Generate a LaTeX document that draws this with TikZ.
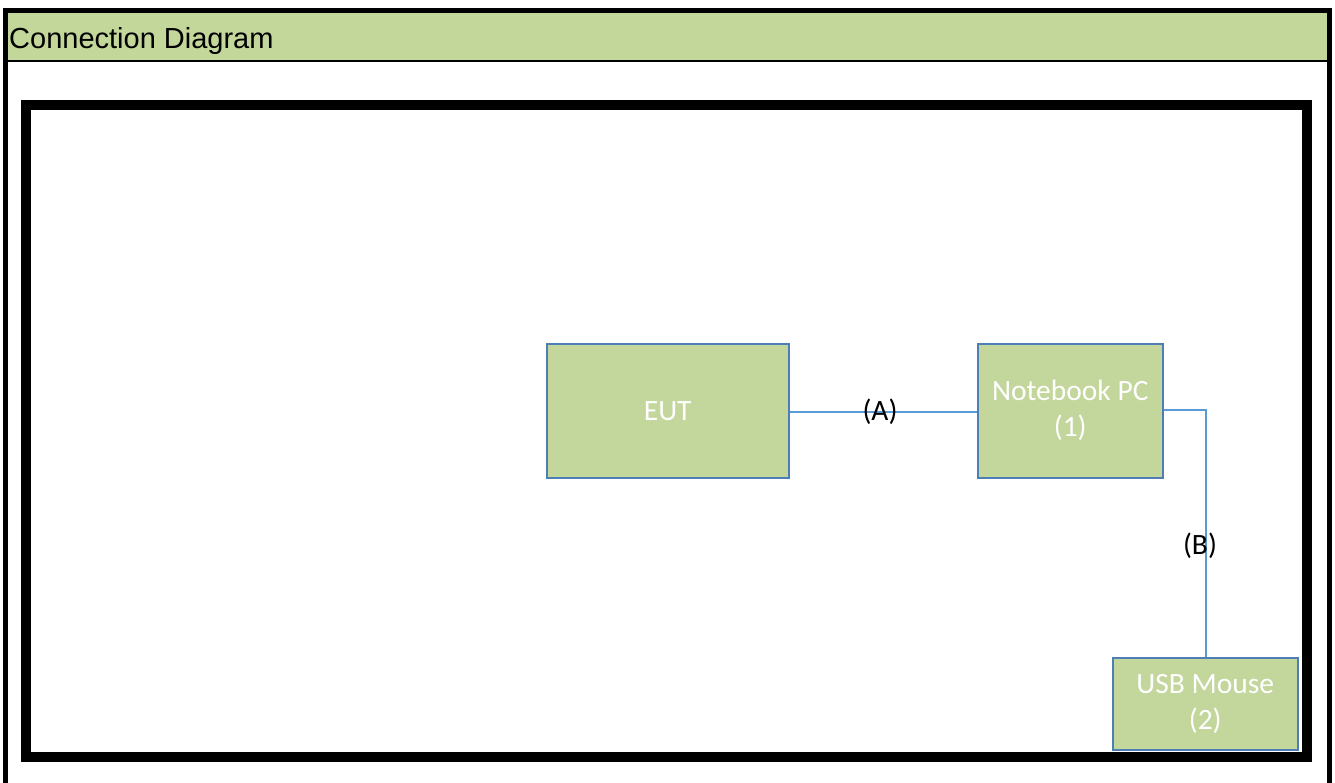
\documentclass[tikz,border=0pt]{standalone}
\usepackage{fontspec}
\setmainfont{Carlito}
\newfontfamily\arialfont{Liberation Sans}
\definecolor{hdrgreen}{HTML}{C4D79B}
\definecolor{boxgreen}{HTML}{C3D69B}
\definecolor{boxblue}{HTML}{4F7DB5}
\definecolor{wireblue}{HTML}{5B9BD5}
\begin{document}
\begin{tikzpicture}[x=1pt,y=-1pt,
  devbox/.style={draw=boxblue,line width=1.5pt,fill=boxgreen,text=white,
    font=\fontsize{29.5}{36}\selectfont,align=center,inner sep=0pt,anchor=north west},
  wire/.style={draw=wireblue,line width=1.4pt},
  wirelabel/.style={font=\fontsize{29.5}{36}\selectfont,text=black,inner sep=0pt}]
\useasboundingbox (0,0) rectangle (1335,783);
\clip (0,0) rectangle (1335,783);
% header
\fill[hdrgreen] (8,13) rectangle (1327,61);
\draw[line width=1.5pt] (8,61) -- (1327,61);
\node[font=\arialfont\fontsize{29}{30}\selectfont,anchor=base west,inner sep=0pt] (title) at (9,49) {Connection Diagram};
% outer frame
\draw[line width=5pt] (5.5,800) -- (5.5,10.5) -- (1329.5,10.5) -- (1329.5,800);
% inner thick frame
\draw[line width=10pt] (25.5,105) rectangle (1307,757);
% boxes
\node[devbox,minimum width=242pt,minimum height=134pt] (eut) at (546,343) {EUT};
\node[devbox,minimum width=185pt,minimum height=134pt] (nb) at (977,343) {Notebook PC\\(1)};
\node[devbox,minimum width=185pt,minimum height=92pt] (mouse) at (1112,657) {USB Mouse\\(2)};
% connectors
\coordinate (arow) at (800,412);
\draw[wire] (eut.east |- arow) -- (nb.west |- arow);
\coordinate (bend) at (1206,410);
\draw[wire] (nb.east |- bend) -- (bend) -- (bend |- mouse.north);
\node[wirelabel] (la) at (880,412) {(A)};
\node[wirelabel] (lb) at (1200,546) {(B)};
\end{tikzpicture}
\end{document}
